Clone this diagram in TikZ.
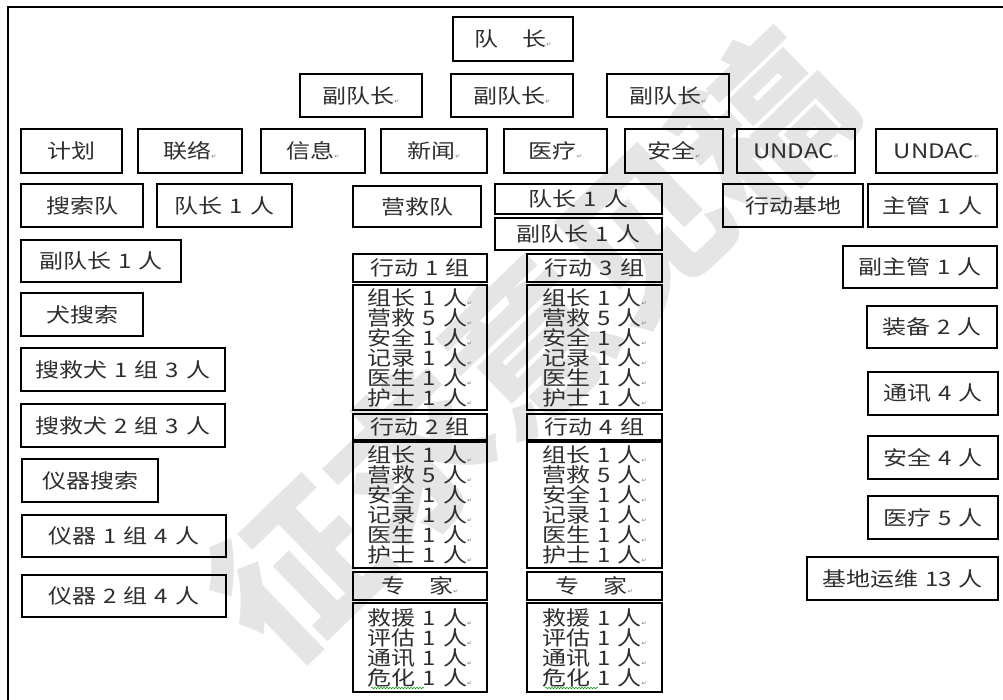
\documentclass[tikz,border=0pt]{standalone}
\usepackage{fontspec}
\setmainfont{Noto Sans CJK SC}[FakeStretch=1.2,WordSpace=1.3]
\newfontfamily\wmfont{Noto Sans CJK SC}
\newfontfamily\djv{DejaVu Sans}
\usetikzlibrary{decorations.pathmorphing}
\newcommand\rmk{{\djv\fontsize{6}{6}\selectfont\color{black!55}↵}}
\tikzset{
  box/.style={draw=black, line width=1.2pt, inner sep=0pt, outer sep=0pt,
    font=\fontsize{20}{20}\selectfont, text=black!82},
  wm/.style={text=black!10, font=\wmfont\bfseries\fontsize{162}{162}\selectfont},
  frame/.style={line width=1.8pt, draw=black},
  wavy/.style={draw=green!55!black, line width=0.5pt, decorate,
    decoration={snake, amplitude=0.7pt, segment length=3pt}}
}
% name, x1, y1, x2, y2, options, text
\newcommand\bx[7]{%
  \pgfmathsetmacro\bw{#4-#2}\pgfmathsetmacro\bh{#5-#3}%
  \pgfmathsetmacro\cx{(#2+#4)/2}\pgfmathsetmacro\cy{(#3+#5)/2}%
  \node[box, minimum width=\bw pt, minimum height=\bh pt, #6] (#1) at (\cx,\cy) {#7};}
\begin{document}
\begin{tikzpicture}[x=1pt,y=-1pt]
\useasboundingbox (0,0) rectangle (1003,699);
\clip (0,0) rectangle (1003,699);
% watermark
\node[wm, rotate=44] (wmk) at (528,345) {征求意见稿};
% frame
\coordinate (f1) at (8,710);
\coordinate (f2) at (8,7);
\coordinate (f3) at (1010,7);
\draw[frame] (f1) -- (f2) -- (f3);
% top
\bx{dz}{453}{17}{573}{61}{}{队　长\rmk}
\bx{fdz1}{300}{74}{422}{117}{}{副队长\rmk}
\bx{fdz2}{451}{74}{573}{117}{}{副队长\rmk}
\bx{fdz3}{607}{74}{729}{117}{}{副队长\rmk}
% row 3
\bx{jh}{21}{129}{122}{173}{}{计划}
\bx{ll}{138}{129}{242}{173}{}{联络\rmk}
\bx{xx}{261}{129}{365}{173}{}{信息\rmk}
\bx{xw}{381}{129}{487}{173}{}{新闻\rmk}
\bx{yl}{504}{129}{607}{173}{}{医疗\rmk}
\bx{aq}{625}{129}{723}{173}{}{安全\rmk}
\bx{un1}{737}{129}{855}{173}{}{UNDAC\rmk}
\bx{un2}{876}{129}{997}{173}{}{UNDAC\rmk}
% row 4
\bx{ssd}{21}{184}{143}{227}{}{搜索队}
\bx{ssdz}{157}{184}{292}{227}{}{队长 1 人}
\bx{yjd}{353}{186}{481}{227}{}{营救队}
\bx{yjdz}{495}{184}{662}{214}{}{队长 1 人}
\bx{yjfdz}{495}{218}{662}{250}{}{副队长 1 人}
\bx{xdjd}{723}{184}{863}{227}{}{行动基地}
\bx{zg}{868}{184}{997}{227}{}{主管 1 人}
% left column
\bx{ssfdz}{21}{240}{181}{282}{}{副队长 1 人}
\bx{qss}{21}{293}{143}{336}{}{犬搜索}
\bx{sjq1}{21}{348}{225}{391}{}{搜救犬 1 组 3 人}
\bx{sjq2}{21}{404}{225}{447}{}{搜救犬 2 组 3 人}
\bx{yqss}{22}{459}{158}{502}{}{仪器搜索}
\bx{yq1}{22}{515}{226}{557}{}{仪器 1 组 4 人}
\bx{yq2}{22}{575}{226}{617}{}{仪器 2 组 4 人}
% rescue groups, left
\bx{xd1}{353}{254}{487}{282}{}{行动 1 组}
\bx{xd1m}{353}{285}{487}{410}{align=left}{组长 1 人\rmk\\营救 5 人\rmk\\安全 1 人\rmk\\记录 1 人\rmk\\医生 1 人\rmk\\护士 1 人\rmk}
\bx{xd2}{353}{414}{487}{440}{}{行动 2 组}
\bx{xd2m}{353}{442}{487}{568}{align=left}{组长 1 人\rmk\\营救 5 人\rmk\\安全 1 人\rmk\\记录 1 人\rmk\\医生 1 人\rmk\\护士 1 人\rmk}
\bx{zj1}{353}{572}{487}{600}{}{专　家\rmk}
\bx{zj1m}{353}{603}{487}{692}{align=left}{救援 1 人\rmk\\评估 1 人\rmk\\通讯 1 人\rmk\\危化 1 人\rmk}
% rescue groups, right
\bx{xd3}{527}{254}{662}{282}{}{行动 3 组}
\bx{xd3m}{527}{285}{662}{410}{align=left}{组长 1 人\rmk\\营救 5 人\rmk\\安全 1 人\rmk\\记录 1 人\rmk\\医生 1 人\rmk\\护士 1 人\rmk}
\bx{xd4}{527}{414}{662}{440}{}{行动 4 组}
\bx{xd4m}{527}{442}{662}{568}{align=left}{组长 1 人\rmk\\营救 5 人\rmk\\安全 1 人\rmk\\记录 1 人\rmk\\医生 1 人\rmk\\护士 1 人\rmk}
\bx{zj2}{527}{572}{662}{600}{}{专　家\rmk}
\bx{zj2m}{527}{603}{662}{692}{align=left}{救援 1 人\rmk\\评估 1 人\rmk\\通讯 1 人\rmk\\危化 1 人\rmk}
% spell-check underlines
\draw[wavy] (371,688) -- (424,688);
\draw[wavy] (545,688) -- (598,688);
% right column
\bx{fzg}{843}{246}{997}{288}{}{副主管 1 人}
\bx{zb}{867}{306}{997}{348}{}{装备 2 人}
\bx{tx}{868}{372}{998}{415}{}{通讯 4 人}
\bx{aq4}{868}{436}{998}{479}{}{安全 4 人}
\bx{yl5}{868}{496}{998}{539}{}{医疗 5 人}
\bx{jdyw}{807}{557}{998}{600}{}{基地运维 13 人}
\end{tikzpicture}
\end{document}
